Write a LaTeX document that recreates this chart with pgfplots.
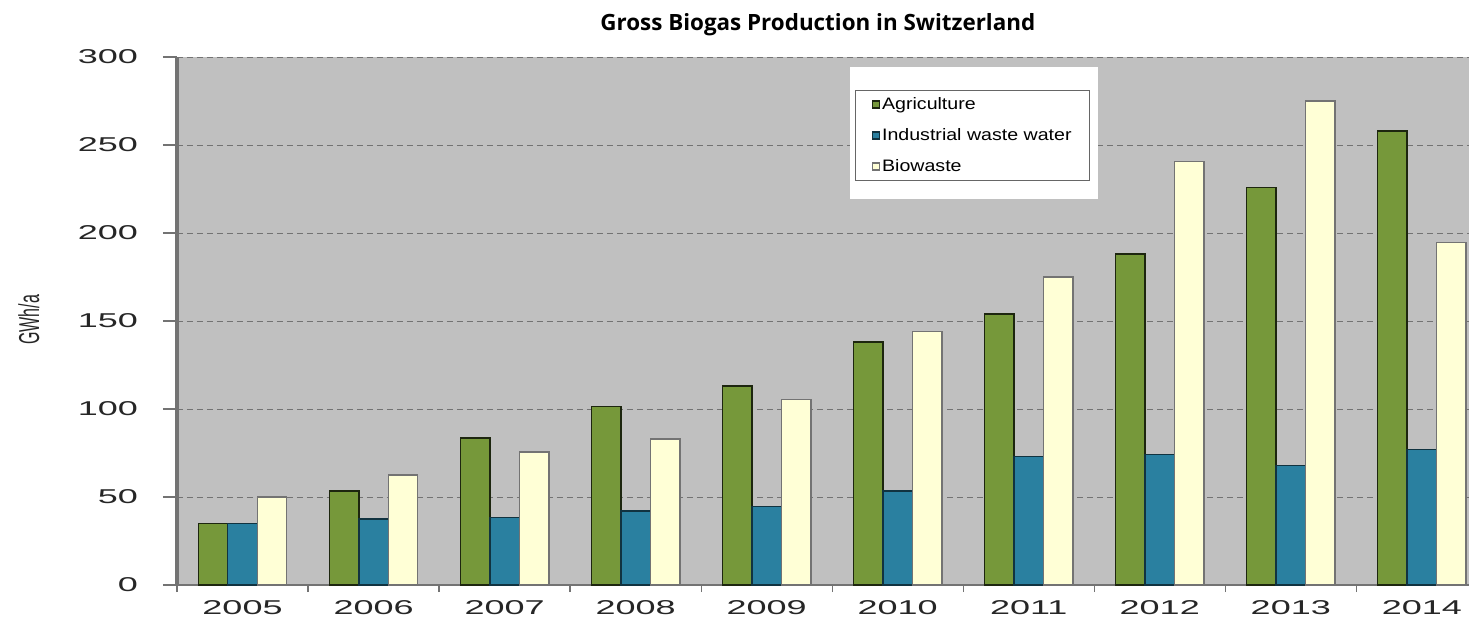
\documentclass[border=0pt]{standalone}
\usepackage{pgfplots}
\pgfplotsset{compat=1.18}
\usepackage{fontspec}
\setmainfont{Liberation Sans}
\newfontfamily\titlefont{Open Sans}
\usepackage{graphicx}
\definecolor{bggray}{RGB}{192,192,192}
\definecolor{agri}{RGB}{118,152,58}
\definecolor{indu}{RGB}{42,128,160}
\definecolor{bio}{RGB}{255,255,214}
\definecolor{axgray}{RGB}{115,115,115}
\newcommand\wtxt[1]{\scalebox{1.8}[1]{#1}}
\newcommand\ltxt[1]{\scalebox{1.18}[1]{#1}}

\begin{document}
\begin{tikzpicture}
\useasboundingbox (-88.5pt,-18.5pt) rectangle (646pt,292.5pt);
\begin{axis}[
  at={(0pt,0pt)}, anchor=south west,
  scale only axis, width=646pt, height=264pt,
  xmin=-0.5, xmax=9.36, ymin=0, ymax=300,
  axis background/.style={fill=bggray},
  axis x line*=bottom, axis y line*=left,
  x axis line style={-, draw=axgray, line width=1pt},
  y axis line style={-, draw=axgray, line width=2pt},
  xtick={0,...,9},
  xticklabels={\wtxt{2005},\wtxt{2006},\wtxt{2007},\wtxt{2008},\wtxt{2009},\wtxt{2010},\wtxt{2011},\wtxt{2012},\wtxt{2013},\wtxt{2014}},
  minor xtick={-0.5,0.5,...,8.5},
  major x tick style={draw=none},
  minor x tick style={draw=axgray, line width=0.6pt},
  minor tick length=3.5pt,
  ytick={0,50,...,300},
  yticklabel={\wtxt{\pgfmathprintnumber[assume math mode=true]{\tick}}},
  ytick style={draw=axgray, line width=0.6pt},
  major tick length=7pt,
  tick align=outside,
  tick label style={font=\fontsize{10}{12}\selectfont, text=black!85},
  yticklabel style={anchor=east, xshift=-9pt},
  xticklabel style={anchor=north, yshift=3pt},
  ymajorgrids,
  grid style={draw=black!55, line width=0.5pt, dash pattern=on 3pt off 2pt},
  title={\titlefont\bfseries Gross Biogas Production in Switzerland},
  title style={at={(0.496,1.0606)}, anchor=center, yshift=-6pt, font=\fontsize{11.2}{13}\selectfont},
  ylabel={\scalebox{1}[1.8]{GWh/a}},
  ylabel style={at={(axis description cs:-0.1146,0.502)}, anchor=center, font=\fontsize{8}{10}\selectfont, text=black!85},
  ybar, bar width=0.225,
  legend cell align=left,
  legend image code/.code={\draw[#1] (0pt,-1.8pt) rectangle (3.6pt,1.8pt);},
  legend style={at={(0.5248,0.9375)}, anchor=north west, draw=black!60, line width=0.5pt, fill=white,
    font=\fontsize{8.3}{10}\selectfont, inner xsep=8pt, inner ysep=2.25pt, row sep=6pt,
    nodes={inner sep=1pt}},
]
\addplot[bar shift=-0.225, fill=agri, draw=black!75!agri, line width=0.7pt] coordinates {
(0,35) (1,53.5) (2,83.5) (3,101.5) (4,113) (5,138) (6,154) (7,188) (8,226) (9,258)};
\addlegendentry{\ltxt{Agriculture}}
\addplot[bar shift=0, fill=indu, draw=black!60!indu, line width=0.7pt] coordinates {
(0,35) (1,37.5) (2,38.5) (3,42) (4,44.5) (5,53.5) (6,73) (7,74) (8,68) (9,77)};
\addlegendentry{\ltxt{Industrial waste water}}
\addplot[bar shift=0.225, fill=bio, draw=black!55, line width=0.7pt] coordinates {
(0,50) (1,62.5) (2,75.5) (3,83) (4,105.5) (5,144) (6,175) (7,240.5) (8,275) (9,194.5)};
\addlegendentry{\ltxt{Biowaste}}
\fill[white] (axis cs:4.637,219.3) rectangle (axis cs:6.53,294.3);
\end{axis}
\end{tikzpicture}
\end{document}
